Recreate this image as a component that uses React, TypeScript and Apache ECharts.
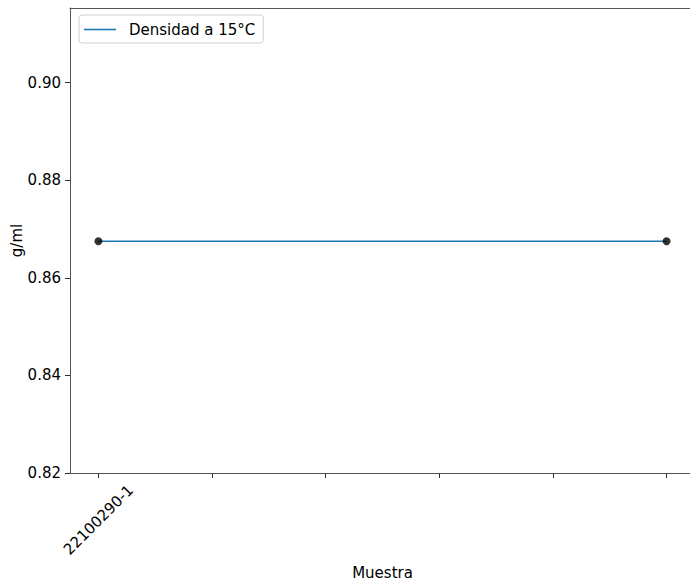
import React, { useEffect, useRef } from "react";
import * as echarts from "echarts";

const seriesName = "Densidad a 15°C";
const xPositions = [0, 5];
const density = [0.8675, 0.8675];
const xTickValues = [0, 1, 2, 3, 4, 5];
const xTickLabels = ["22100290-1"];
const yTickValues = [0.82, 0.84, 0.86, 0.88, 0.9];
const xAxisTitle = "Muestra";
const yAxisTitle = "g/ml";

export default function App() {
  const ref = useRef<HTMLDivElement>(null);
  useEffect(() => {
    if (!ref.current) return;
    const chart = echarts.init(ref.current, null, { renderer: "svg" });
    const font = "DejaVu Sans";
    const axisColor = "#555";
    const pts = xPositions.map((x, i) => [x, density[i]]);
    const xMin = -0.25;
    const xMax = 5.25;
    chart.setOption({
      animation: false,
      backgroundColor: "#fff",
      textStyle: { fontFamily: font },
      grid: {
        left: 70,
        top: 8,
        right: -5,
        bottom: 114,
        containLabel: false,
        outerBoundsMode: "none",
        show: false,
      },
      legend: {
        show: true,
        data: [{ name: seriesName, icon: "rect" }],
        left: 79,
        top: 15,
        orient: "vertical",
        backgroundColor: "#fff",
        borderColor: "#d0d0d0",
        borderWidth: 1,
        borderRadius: 3,
        padding: [7, 8, 6, 5],
        itemWidth: 32,
        itemHeight: 1.6,
        itemStyle: { color: "#1f77b4" },
        textStyle: {
          fontFamily: font,
          fontSize: 15,
          color: "#000",
          padding: [0, 0, 0, 8],
        },
      },
      xAxis: [
        {
          type: "value",
          min: xMin,
          max: xMax,
          name: xAxisTitle,
          nameLocation: "middle",
          nameGap: 92,
          nameMoveOverlap: false,
          nameTextStyle: { fontFamily: font, fontSize: 15, color: "#000" },
          splitLine: { show: false },
          axisLine: { show: true, onZero: false, lineStyle: { color: axisColor } },
          axisTick: {
            show: true,
            length: 5,
            customValues: xTickValues,
            lineStyle: { color: "#333" },
          },
          axisLabel: {
            customValues: [xTickValues[0]],
            formatter: (v: number) => {
              const idx = xTickValues.indexOf(v);
              return idx >= 0 && idx < xTickLabels.length ? xTickLabels[idx] : "";
            },
            rotate: 45,
            align: "center",
            verticalAlign: "middle",
            margin: 47,
            fontFamily: font,
            fontSize: 15,
            color: "#000",
          },
        },
        {
          type: "value",
          position: "top",
          min: xMin,
          max: xMax,
          splitLine: { show: false },
          axisLine: { show: true, onZero: false, lineStyle: { color: axisColor } },
          axisTick: { show: false },
          axisLabel: { show: false },
        },
      ],
      yAxis: {
        type: "value",
        min: 0.82,
        max: 0.9153,
        name: yAxisTitle,
        nameLocation: "middle",
        nameGap: 46,
        nameMoveOverlap: false,
        nameTextStyle: { fontFamily: font, fontSize: 15, color: "#000" },
        splitLine: { show: false },
        axisLine: { show: true, onZero: false, lineStyle: { color: axisColor } },
        axisTick: {
          show: true,
          length: 5,
          customValues: yTickValues,
          lineStyle: { color: "#333" },
        },
        axisLabel: {
          customValues: yTickValues,
          formatter: (v: number) => v.toFixed(2),
          margin: 9,
          fontFamily: font,
          fontSize: 15,
          color: "#000",
        },
      },
      series: [
        {
          name: seriesName,
          type: "line",
          data: pts,
          symbol: "none",
          lineStyle: { color: "#1f77b4", width: 1.6 },
          itemStyle: { color: "#1f77b4" },
          z: 2,
        },
        {
          name: "points",
          type: "scatter",
          data: pts,
          symbolSize: 8,
          itemStyle: { color: "#000" },
          z: 3,
        },
      ],
    });
    return () => chart.dispose();
  }, []);
  return (
    <div
      ref={ref}
      style={{ position: "fixed", left: 0, top: 0, width: 690, height: 587, background: "#fff" }}
    />
  );
}
